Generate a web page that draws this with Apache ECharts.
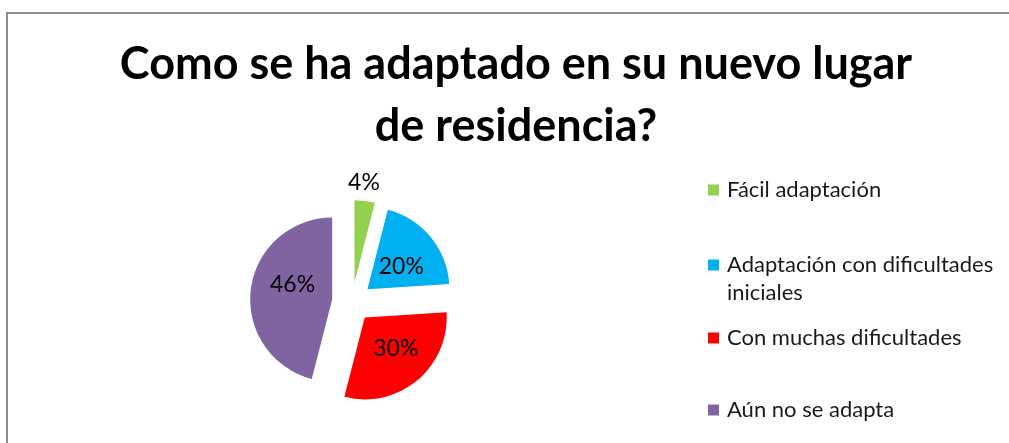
<!DOCTYPE html>
<html>
<head>
    <meta charset="utf-8" />
    <title>Echarts</title>
    <script src="https://cdn.jsdelivr.net/npm/echarts@6/dist/echarts.min.js"></script>
    <style>
        html, body { margin: 0; padding: 0; background: #fff; overflow: hidden; }
        #marco {
            position: absolute; left: 6px; top: 12px; width: 1100px; height: 500px;
            border-left: 2px solid #8c8c8c; border-top: 2px solid #8c8c8c;
        }
    </style>
</head>
<body>
    <div id="marco"></div>
    <div id="main" style="position:absolute;left:0;top:0;width:1009px;height:443px;"></div>
    <script type="text/javascript">
        // datos
        var categorias = ['Fácil adaptación', 'Adaptación con dificultades iniciales', 'Con muchas dificultades', 'Aún no se adapta'];
        var porcentajes = [4, 20, 30, 46];
        var titulo = 'Como se ha adaptado en su nuevo lugar\nde residencia?';

        var colores = ['#92D050', '#00B0F0', '#FF0000', '#8064A2'];
        var fuente = 'Lato';

        var datos = [];
        for (var i = 0; i < categorias.length; i++) {
            var item = { name: categorias[i], value: porcentajes[i], selected: true };
            if (i === 0) {
                // la etiqueta pequeña va fuera, encima del sector
                item.label = { position: 'outside' };
                item.labelLine = { show: false, length: 18, length2: 0 };
            }
            datos.push(item);
        }

        // pequeños ajustes de las etiquetas (como las coloca Excel)
        var ajusteEtiquetas = [[-24, 0], [0, 5], [3, -3], [4, -9]];

        // una leyenda por elemento para reproducir el espaciado
        var topsLeyenda = [176, 223, 324, 396];
        var leyendas = [];
        for (var j = 0; j < categorias.length; j++) {
            leyendas.push({
                orient: 'vertical',
                left: 708,
                top: topsLeyenda[j],
                padding: 0,
                icon: 'rect',
                itemWidth: 11,
                itemHeight: 11,
                selectedMode: false,
                data: [categorias[j]],
                formatter: function (name) {
                    if (name === categorias[1]) {
                        return '\nAdaptación con dificultades\niniciales';
                    }
                    return name;
                },
                textStyle: {
                    fontFamily: fuente,
                    fontSize: 22,
                    lineHeight: 28,
                    color: '#1a1a1a',
                    padding: [0, 0, 0, 3]
                }
            });
        }

        var myChart = echarts.init(document.getElementById('main'));
        myChart.setOption({
            animation: false,
            color: colores,
            title: {
                text: titulo,
                left: 511,
                textAlign: 'center',
                top: 28,
                textStyle: {
                    fontFamily: fuente,
                    fontWeight: 'bold',
                    fontSize: 45,
                    lineHeight: 62,
                    color: '#000'
                }
            },
            legend: leyendas,
            series: [{
                type: 'pie',
                center: [352, 302],
                radius: 82,
                startAngle: 90,
                selectedMode: 'multiple',
                selectedOffset: 20,
                label: {
                    show: true,
                    position: 'inside',
                    formatter: '{c}%',
                    fontFamily: fuente,
                    fontSize: 23,
                    color: '#000'
                },
                labelLayout: function (p) {
                    var a = ajusteEtiquetas[p.dataIndex];
                    return { dx: a[0], dy: a[1] };
                },
                emphasis: { disabled: true },
                data: datos
            }]
        });
    </script>
</body>
</html>
